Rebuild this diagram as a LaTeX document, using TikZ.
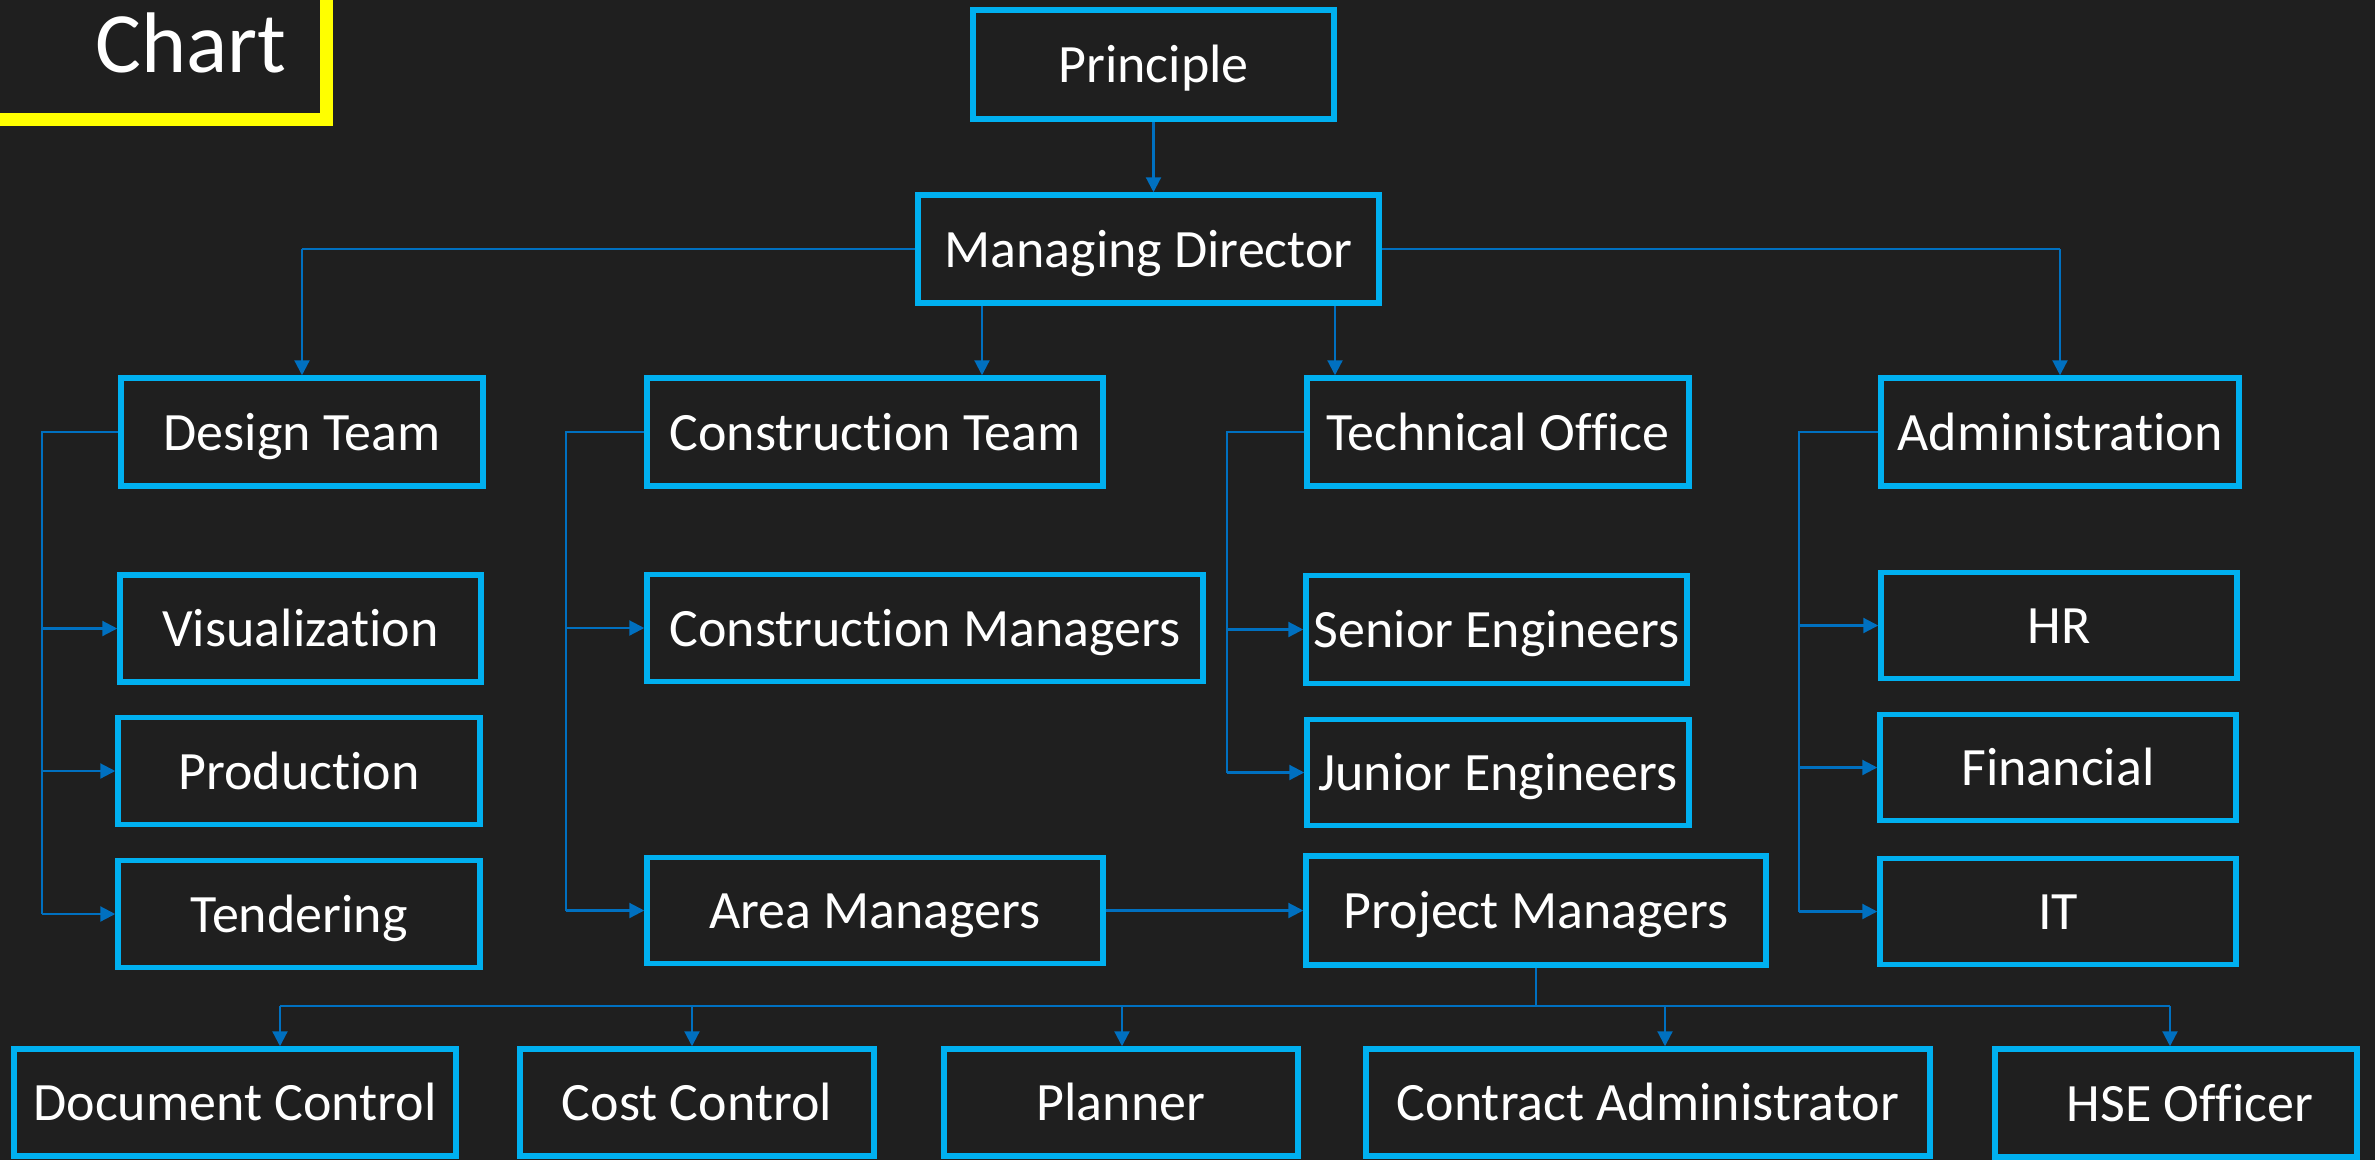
\documentclass[tikz,border=0pt]{standalone}
\usepackage{fontspec}
\setmainfont[Ligatures=NoCommon]{Carlito}
\usetikzlibrary{arrows.meta,calc}
\definecolor{bg}{HTML}{1F1F1F}
\definecolor{boxc}{HTML}{00B0F0}
\definecolor{linec}{HTML}{0070C0}
\definecolor{yel}{HTML}{FFFF00}
\newcommand\orgbox[6]{\node[box,minimum width=#4pt,minimum height=#5pt] (#1) at (#2,#3) {#6};}
\begin{document}
\begin{tikzpicture}[x=1pt,y=-1pt,
 box/.style={draw=boxc, line width=5.5pt, fill=bg, text=white, inner sep=0pt,
   font=\fontsize{54}{60}\selectfont, text height=36pt, text depth=0pt, align=center},
 conn/.style={draw=linec, line width=1.3pt},
 arr/.style={draw=linec, line width=2.2pt, -{Triangle[length=15pt,width=15pt]}},
]
\fill[bg] (0,0) rectangle (2375,1160);
\path[use as bounding box] (0,0) rectangle (2375,1160);
\clip (0,0) rectangle (2375,1160);

% title
\draw[yel, line width=13pt] (-40,-40) rectangle (326,119);
\node[anchor=base west, text=white, font=\fontsize{86}{90}\selectfont, inner sep=0pt] (chart) at (95,72) {Chart};

% boxes
\orgbox{pri}{1153.5}{64.5}{361}{109}{Principle}
\orgbox{md}{1148.5}{249}{461}{108}{Managing Director}
\orgbox{dt}{302}{432}{362}{108}{Design Team}
\orgbox{ct}{875}{432}{456}{108}{Construction Team}
\orgbox{tech}{1498}{432}{382}{108}{Technical Office}
\orgbox{adm}{2060}{432}{358}{108}{Administration}
\orgbox{vis}{300.5}{628.5}{361}{107}{Visualization}
\orgbox{prod}{299}{771}{362}{107}{Production}
\orgbox{tend}{299}{914}{362}{107}{Tendering}
\orgbox{cm}{925}{628}{556}{107}{Construction Managers}
\orgbox{am}{875}{910.5}{456}{106}{Area Managers}
\orgbox{se}{1496.5}{629.5}{381}{108}{Senior Engineers}
\orgbox{je}{1498}{772.5}{382}{106}{Junior Engineers}
\orgbox{pm}{1536}{910.5}{460}{109}{Project Managers}
\orgbox{hr}{2059}{625.5}{356}{106}{HR}
\orgbox{fin}{2058}{767.5}{356}{106}{Financial}
\orgbox{it}{2058}{911.5}{356}{106}{IT}
\orgbox{doc}{235}{1102.5}{442}{107}{Document Control}
\orgbox{cost}{697}{1102.5}{354}{107}{Cost Control}
\orgbox{plan}{1121}{1102.5}{354}{107}{Planner}
\orgbox{ca}{1648}{1102.5}{564}{107}{Contract Administrator}
\orgbox{hse}{2176}{1103}{362}{108}{\hspace*{28pt}HSE Officer}

% top connectors
\draw[arr] (pri.south) -- (pri.south |- md.north);
\draw[conn] (md.west) -- (md.west -| dt.north);
\draw[arr] (md.west -| dt.north) -- (dt.north);
\draw[conn] (md.east) -- (md.east -| adm.north);
\draw[arr] (md.east -| adm.north) -- (adm.north);
\coordinate (d1) at ($(md.south)+(-166.5,0)$);
\coordinate (d2) at ($(md.south)+(186.5,0)$);
\draw[arr] (d1) -- (d1 |- ct.north);
\draw[arr] (d2) -- (d2 |- tech.north);

% brackets
\coordinate (xdt) at (42,0);
\draw[conn] (dt.west) -- (dt.west -| xdt) -- (xdt |- tend.west);
\foreach \n in {vis,prod,tend} \draw[arr] (xdt |- \n.west) -- (\n.west);

\coordinate (xct) at (566,0);
\draw[conn] (ct.west) -- (ct.west -| xct) -- (xct |- am.west);
\foreach \n in {cm,am} \draw[arr] (xct |- \n.west) -- (\n.west);

\coordinate (xte) at (1227,0);
\draw[conn] (tech.west) -- (tech.west -| xte) -- (xte |- je.west);
\foreach \n in {se,je} \draw[arr] (xte |- \n.west) -- (\n.west);

\coordinate (xad) at (1799,0);
\draw[conn] (adm.west) -- (adm.west -| xad) -- (xad |- it.west);
\foreach \n in {hr,fin,it} \draw[arr] (xad |- \n.west) -- (\n.west);

\draw[arr] (am.east) -- (pm.west);

% bottom bus
\coordinate (bus) at (pm.south |- 0,1006);
\coordinate (bdoc) at (280,1006);
\coordinate (bcost) at (692,1006);
\coordinate (bplan) at (1122,1006);
\coordinate (bca) at (1665,1006);
\coordinate (bhse) at (2170,1006);
\draw[conn] (pm.south) -- (bus);
\draw[conn] (bdoc) -- (bhse);
\draw[arr] (bdoc) -- (bdoc |- doc.north);
\draw[arr] (bcost) -- (bcost |- cost.north);
\draw[arr] (bplan) -- (bplan |- plan.north);
\draw[arr] (bca) -- (bca |- ca.north);
\draw[arr] (bhse) -- (bhse |- hse.north);
\end{tikzpicture}
\end{document}
